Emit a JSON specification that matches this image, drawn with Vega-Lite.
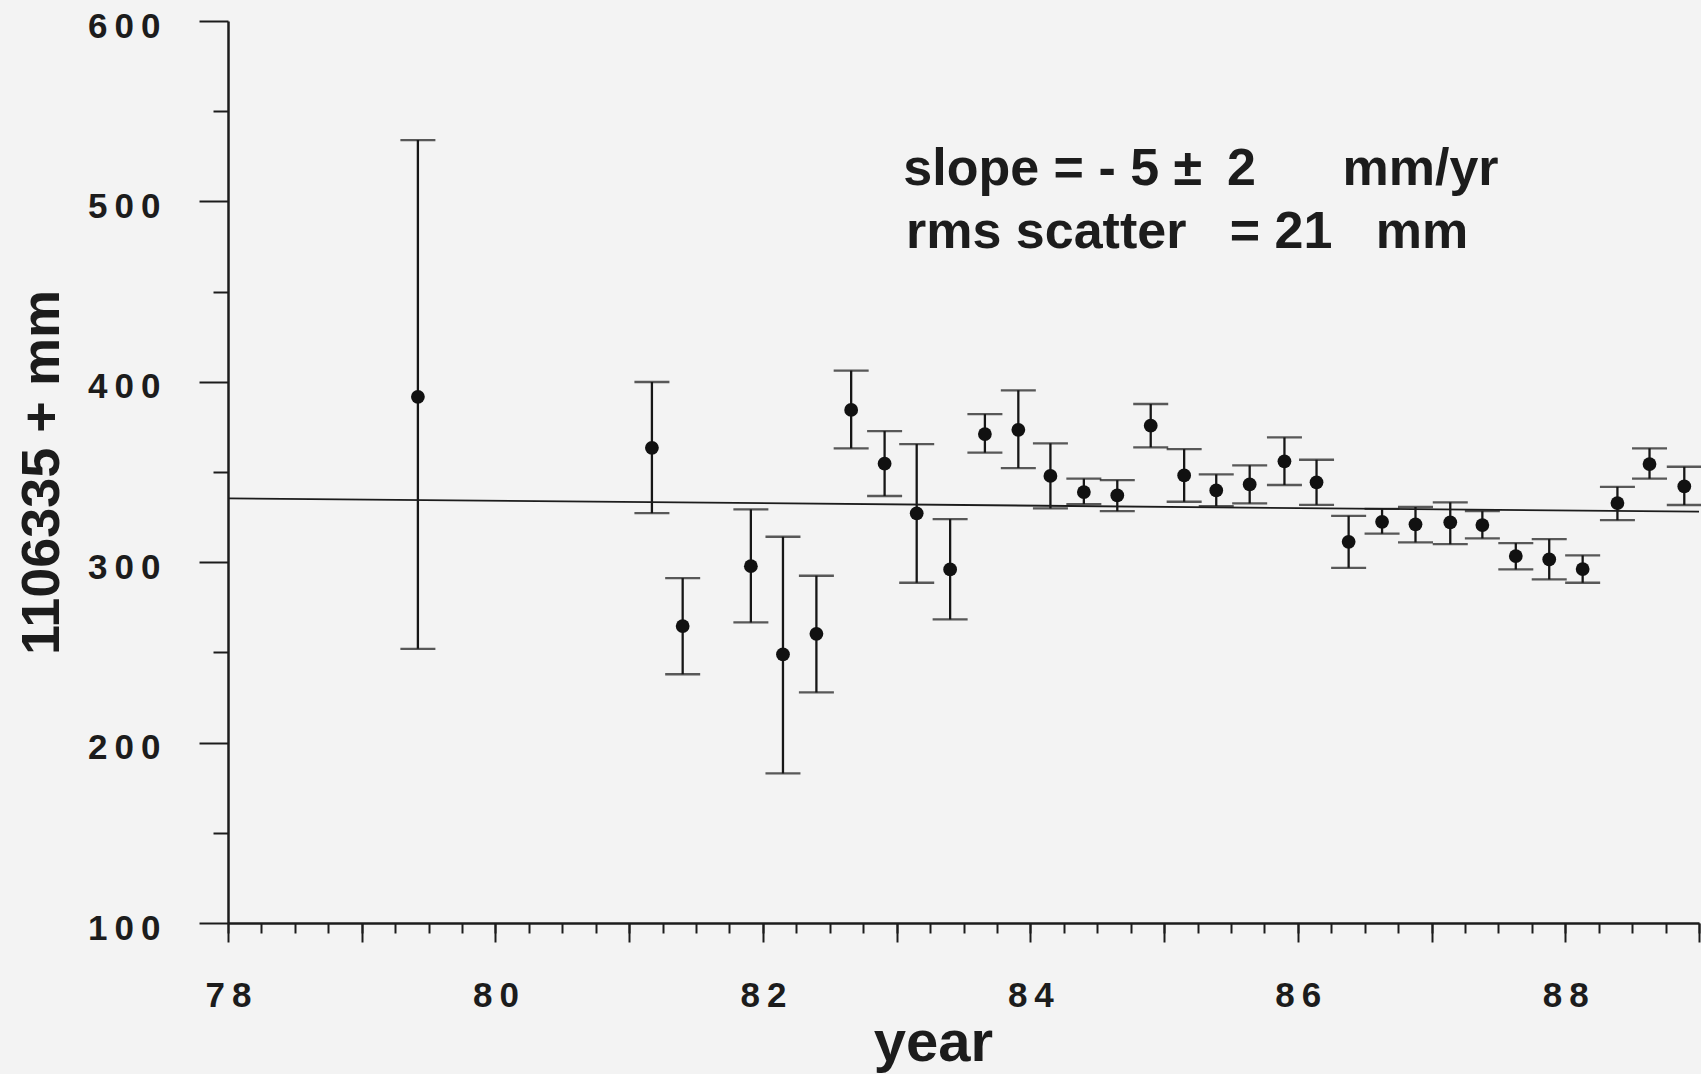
{
  "$schema": "https://vega.github.io/schema/vega-lite/v6.json",
  "width": 1471,
  "height": 902,
  "autosize": {"type": "none"},
  "padding": {"left": 228, "top": 21, "right": 2, "bottom": 151},
  "background": "#f3f3f3",
  "config": {
    "view": {"stroke": null},
    "axis": {
      "domainColor": "#1c1c1c",
      "domainWidth": 2.5,
      "tickColor": "#1c1c1c",
      "tickWidth": 2,
      "grid": false,
      "labelFont": "Liberation Sans",
      "labelFontWeight": "bold",
      "labelFontSize": 35,
      "labelColor": "#1c1c1c",
      "titleFont": "Liberation Sans",
      "titleFontWeight": "bold",
      "titleColor": "#1c1c1c",
      "labelOverlap": false,
      "labelBound": false,
      "labelFlush": false
    }
  },
  "datasets": {
    "pts": [
      {"year": 79.42, "value": 391.7, "lo": 252.0, "hi": 534.0},
      {"year": 81.17, "value": 363.4, "lo": 327.2, "hi": 399.9},
      {"year": 81.40, "value": 264.6, "lo": 237.9, "hi": 291.2},
      {"year": 81.91, "value": 297.8, "lo": 266.6, "hi": 329.3},
      {"year": 82.15, "value": 248.9, "lo": 182.9, "hi": 314.1},
      {"year": 82.40, "value": 260.3, "lo": 227.8, "hi": 292.5},
      {"year": 82.66, "value": 384.4, "lo": 363.1, "hi": 406.2},
      {"year": 82.91, "value": 354.6, "lo": 336.7, "hi": 372.7},
      {"year": 83.15, "value": 327.1, "lo": 288.6, "hi": 365.5},
      {"year": 83.40, "value": 296.0, "lo": 268.3, "hi": 323.9},
      {"year": 83.66, "value": 371.0, "lo": 360.7, "hi": 382.1},
      {"year": 83.91, "value": 373.4, "lo": 352.2, "hi": 395.3},
      {"year": 84.15, "value": 347.8, "lo": 329.8, "hi": 365.9},
      {"year": 84.40, "value": 338.9, "lo": 332.2, "hi": 346.3},
      {"year": 84.65, "value": 337.0, "lo": 328.3, "hi": 345.5},
      {"year": 84.90, "value": 375.7, "lo": 363.7, "hi": 387.7},
      {"year": 85.15, "value": 348.1, "lo": 333.5, "hi": 362.7},
      {"year": 85.39, "value": 339.8, "lo": 331.1, "hi": 348.7},
      {"year": 85.64, "value": 343.1, "lo": 332.6, "hi": 353.7},
      {"year": 85.90, "value": 355.9, "lo": 342.8, "hi": 369.2},
      {"year": 86.14, "value": 344.3, "lo": 331.8, "hi": 356.8},
      {"year": 86.38, "value": 311.3, "lo": 296.9, "hi": 325.7},
      {"year": 86.63, "value": 322.4, "lo": 315.8, "hi": 329.6},
      {"year": 86.88, "value": 321.0, "lo": 311.0, "hi": 330.6},
      {"year": 87.14, "value": 322.1, "lo": 310.0, "hi": 333.2},
      {"year": 87.38, "value": 320.6, "lo": 313.2, "hi": 328.3},
      {"year": 87.63, "value": 303.4, "lo": 296.0, "hi": 310.6},
      {"year": 87.88, "value": 301.5, "lo": 290.5, "hi": 312.8},
      {"year": 88.13, "value": 296.2, "lo": 288.6, "hi": 303.8},
      {"year": 88.39, "value": 332.8, "lo": 323.3, "hi": 341.8},
      {"year": 88.63, "value": 354.4, "lo": 346.3, "hi": 363.1},
      {"year": 88.89, "value": 342.0, "lo": 331.7, "hi": 352.9}
    ],
    "fit": [
      {"year": 78, "fit": 335.4},
      {"year": 89, "fit": 328.0}
    ]
  },
  "resolve": {"axis": {"x": "independent", "y": "independent"}},
  "layer": [
    {
      "data": {"name": "pts"},
      "mark": {"type": "rule", "color": "#161616", "strokeWidth": 2.3},
      "encoding": {
        "x": {
          "field": "year", "type": "quantitative",
          "scale": {"domain": [78, 89], "nice": false, "zero": false},
          "axis": {
            "orient": "bottom",
            "values": [78, 79, 80, 81, 82, 83, 84, 85, 86, 87, 88, 89],
            "tickSize": 19,
            "labelPadding": 36,
            "labelExpr": "datum.value % 2 === 0 ? join(split(format(datum.value, 'd'), ''), '\u2009') : ''",
            "title": "year",
            "titleFontSize": 58,
            "titlePadding": 1,
            "titleX": 705
          }
        },
        "y": {
          "field": "lo", "type": "quantitative",
          "scale": {"domain": [100, 600], "nice": false, "zero": false},
          "axis": {
            "orient": "left",
            "values": [100, 200, 300, 400, 500, 600],
            "tickSize": 29,
            "labelPadding": 39,
            "labelOffset": 5,
            "labelExpr": "join(split(format(datum.value, 'd'), ''), '\u2009')",
            "title": "1106335 + mm",
            "titleFontSize": 54,
            "titlePadding": 18
          }
        },
        "y2": {"field": "hi"}
      }
    },
    {
      "data": {"name": "pts"},
      "mark": {"type": "tick", "orient": "horizontal", "color": "#161616", "size": 35, "thickness": 2.3},
      "encoding": {
        "x": {
          "field": "year", "type": "quantitative",
          "axis": {
            "orient": "bottom",
            "values": [78, 78.25, 78.5, 78.75, 79, 79.25, 79.5, 79.75, 80, 80.25, 80.5, 80.75, 81, 81.25, 81.5, 81.75, 82, 82.25, 82.5, 82.75, 83, 83.25, 83.5, 83.75, 84, 84.25, 84.5, 84.75, 85, 85.25, 85.5, 85.75, 86, 86.25, 86.5, 86.75, 87, 87.25, 87.5, 87.75, 88, 88.25, 88.5, 88.75, 89],
            "tickSize": 10,
            "labels": false,
            "domain": false,
            "title": null
          }
        },
        "y": {
          "field": "lo", "type": "quantitative",
          "axis": {
            "orient": "left",
            "values": [150, 250, 350, 450, 550],
            "tickSize": 15,
            "labels": false,
            "domain": false,
            "title": null
          }
        }
      }
    },
    {
      "data": {"name": "pts"},
      "mark": {"type": "tick", "orient": "horizontal", "color": "#161616", "size": 35, "thickness": 2.3},
      "encoding": {
        "x": {"field": "year", "type": "quantitative", "axis": null},
        "y": {"field": "hi", "type": "quantitative", "axis": null}
      }
    },
    {
      "data": {"name": "fit"},
      "mark": {"type": "line", "color": "#1c1c1c", "strokeWidth": 1.8},
      "encoding": {
        "x": {"field": "year", "type": "quantitative", "axis": null},
        "y": {"field": "fit", "type": "quantitative", "axis": null}
      }
    },
    {
      "data": {"name": "pts"},
      "mark": {"type": "point", "shape": "circle", "filled": true, "color": "#111111", "opacity": 1, "size": 190},
      "encoding": {
        "x": {"field": "year", "type": "quantitative", "axis": null},
        "y": {"field": "value", "type": "quantitative", "axis": null}
      }
    },
    {
      "data": {"values": [{}]},
      "mark": {"type": "text", "font": "Liberation Sans", "fontWeight": "bold", "fontSize": 52, "align": "left", "baseline": "alphabetic", "color": "#1c1c1c"},
      "encoding": {
        "x": {"datum": 83.05, "type": "quantitative", "axis": null},
        "y": {"datum": 509.2, "type": "quantitative", "axis": null},
        "text": {"value": "slope\u00a0=\u00a0-\u00a05\u00a0±\u00a0\u20092\u00a0\u00a0\u00a0\u00a0\u00a0\u00a0mm/yr"}
      }
    },
    {
      "data": {"values": [{}]},
      "mark": {"type": "text", "font": "Liberation Sans", "fontWeight": "bold", "fontSize": 52, "align": "left", "baseline": "alphabetic", "color": "#1c1c1c"},
      "encoding": {
        "x": {"datum": 83.07, "type": "quantitative", "axis": null},
        "y": {"datum": 474.0, "type": "quantitative", "axis": null},
        "text": {"value": "rms\u00a0scatter\u00a0\u00a0\u00a0=\u00a021\u00a0\u00a0\u00a0mm"}
      }
    }
  ]
}
